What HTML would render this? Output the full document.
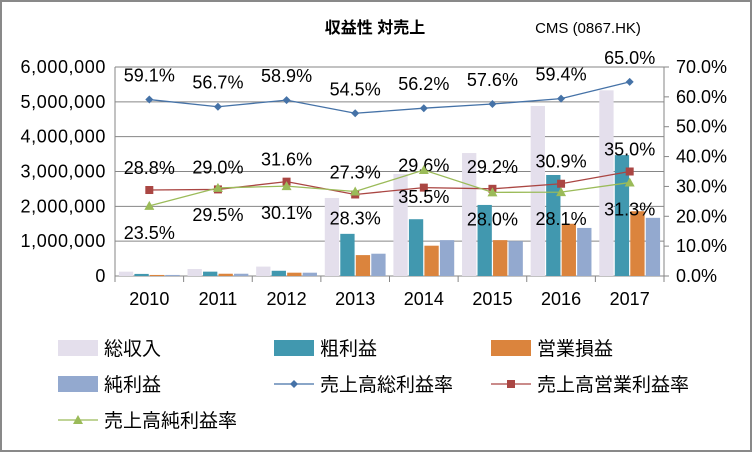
<!DOCTYPE html>
<html><head><meta charset="utf-8"><style>
body{margin:0;background:#fff}
svg{display:block;font-family:"Liberation Sans","Noto Sans CJK JP",sans-serif}
</style></head><body>
<svg id="c" width="752" height="452" viewBox="0 0 752 452">
<rect x="1" y="1" width="750" height="450" fill="#fff" stroke="#898989" stroke-width="2"/>
<text x="375" y="33" font-size="16" font-weight="bold" text-anchor="middle">収益性 対売上</text>
<text x="588" y="33" font-size="15" text-anchor="middle">CMS (0867.HK)</text>
<g id="grid"></g><g id="bars"></g><g id="lines"></g><g id="axes"></g>
<g id="legend" font-size="17"></g>
</svg>
<script>
const years=['2010','2011','2012','2013','2014','2015','2016','2017'];
const revenue=[125000,200000,270000,2240000,2930000,3530000,4880000,5330000];
const grossProfit=[60000,125000,150000,1210000,1630000,2040000,2900000,3470000];
const operatingProfit=[30000,65000,95000,600000,870000,1030000,1500000,1860000];
const netProfit=[30000,65000,95000,640000,1030000,1000000,1380000,1670000];
const grossMargin=[59.1,56.7,58.9,54.5,56.2,57.6,59.4,65.0];
const opMargin=[28.8,29.0,31.6,27.3,29.6,29.2,30.9,35.0];
const netMargin=[23.5,29.5,30.1,28.3,35.5,28.0,28.1,31.3];
const leftTicks=[0,1000000,2000000,3000000,4000000,5000000,6000000];
const rightTicks=[0,10,20,30,40,50,60,70];

const NS='http://www.w3.org/2000/svg';
const L=115,R=664,T=67,B=276;
const cw=(R-L)/years.length;
const yL=v=>B-(v/6000000)*(B-T);
const yR=v=>B-(v/70)*(B-T);
const xc=i=>L+cw*(i+0.5);
function mk(p,tag,a){const e=document.createElementNS(NS,tag);for(const k in a)e.setAttribute(k,a[k]);document.getElementById(p).appendChild(e);return e;}
function txt(p,x,y,s,anchor,size){const e=mk(p,'text',{x:x,y:y,'text-anchor':anchor,'font-size':size});e.textContent=s;return e;}

leftTicks.forEach(v=>{
 const g=mk('grid','line',{x1:L,x2:R,y1:yL(v),y2:yL(v),stroke:'#868686','stroke-width':1});
 
 
 const t=txt('axes',106,yL(v)+6,v.toLocaleString('en-US'),'end',18);
 t.setAttribute('letter-spacing','0.6');
 
 
});
rightTicks.forEach(v=>{
 const t=txt('axes',676,yR(v)+6,v.toFixed(1)+'%','start',18);
 
 
 const k=mk('axes','line',{x1:R,x2:R+5,y1:yR(v),y2:yR(v),stroke:'#868686'});
 
 
});
[[L,T,L,B],[R,T,R,B]].forEach(a=>{const l=mk('axes','line',{x1:a[0],y1:a[1],x2:a[2],y2:a[3],stroke:'#868686'});
 
 });
years.forEach((y,i)=>{
 const t=txt('axes',xc(i),305,y,'middle',18);
 
 
 const k=mk('axes','line',{x1:L+cw*i,x2:L+cw*i,y1:B,y2:B+6,stroke:'#868686'});
 
 
});
const kt=mk('axes','line',{x1:R,x2:R,y1:B,y2:B+6,stroke:'#868686'});



const barSeries=[[revenue,'#e4dfec','bar-revenue'],[grossProfit,'#4198af','bar-gross-profit'],[operatingProfit,'#db843d','bar-operating-profit'],[netProfit,'#93a9cf','bar-net-profit']];
const bw=14.3,gap=1.2;
years.forEach((y,i)=>{
 const start=xc(i)-(4*bw+3*gap)/2;
 barSeries.forEach((s,j)=>{
  const v=s[0][i];
  const r=mk('bars','rect',{x:start+j*(bw+gap),y:yL(v),width:bw,height:B-yL(v),fill:s[1]});
  
  
 });
});

function lineSeries(vals,color,marker,name,labelDy){
 const pts=vals.map((v,i)=>xc(i)+','+yR(v)).join(' ');
 const pl=mk('lines','polyline',{points:pts,fill:'none',stroke:color,'stroke-width':1.3});
 
 
 vals.forEach((v,i)=>{
  const x=xc(i),y=yR(v);let m;
  if(marker==='d')m=mk('lines','polygon',{points:`${x},${y-4} ${x+4},${y} ${x},${y+4} ${x-4},${y}`,fill:color});
  else if(marker==='s')m=mk('lines','rect',{x:x-4,y:y-4,width:8,height:8,fill:color});
  else m=mk('lines','polygon',{points:`${x},${y-5} ${x+5},${y+4} ${x-5},${y+4}`,fill:'#9bbb59'});
  
  
  const t=txt('lines',x,y+labelDy,v.toFixed(1)+'%','middle',18);
  
  
 });
}
lineSeries(grossMargin,'#4572a7','d','gross-margin',-18);
lineSeries(opMargin,'#aa4643','s','operating-margin',-16);
lineSeries(netMargin,'#9bbb59','t','net-margin',33);

const leg=[['総収入','#e4dfec','box',58,348],['粗利益','#4198af','box',274,348],['営業損益','#db843d','box',491,348],
['純利益','#93a9cf','box',58,384],['売上高総利益率','#4572a7','d',274,384],['売上高営業利益率','#aa4643','s',491,384],['売上高純利益率','#9bbb59','t',58,420]];
leg.forEach(e=>{
 const [label,color,type,x,y]=e;
 if(type==='box'){const r=mk('legend','rect',{x:x,y:y-8,width:40,height:16,fill:color});
  
  }
 else{
  const l=mk('legend','line',{x1:x,x2:x+40,y1:y,y2:y,stroke:color,'stroke-width':1.3});
  
  
  const c=x+20;let m;
  if(type==='d')m=mk('legend','polygon',{points:`${c},${y-4} ${c+4},${y} ${c},${y+4} ${c-4},${y}`,fill:color});
  else if(type==='s')m=mk('legend','rect',{x:c-4,y:y-4,width:8,height:8,fill:color});
  else m=mk('legend','polygon',{points:`${c},${y-5} ${c+5},${y+4} ${c-5},${y+4}`,fill:color});
  
  
 }
 const t=txt('legend',x+46,y+7,label,'start',19);
 
 
});
</script>
</body></html>
